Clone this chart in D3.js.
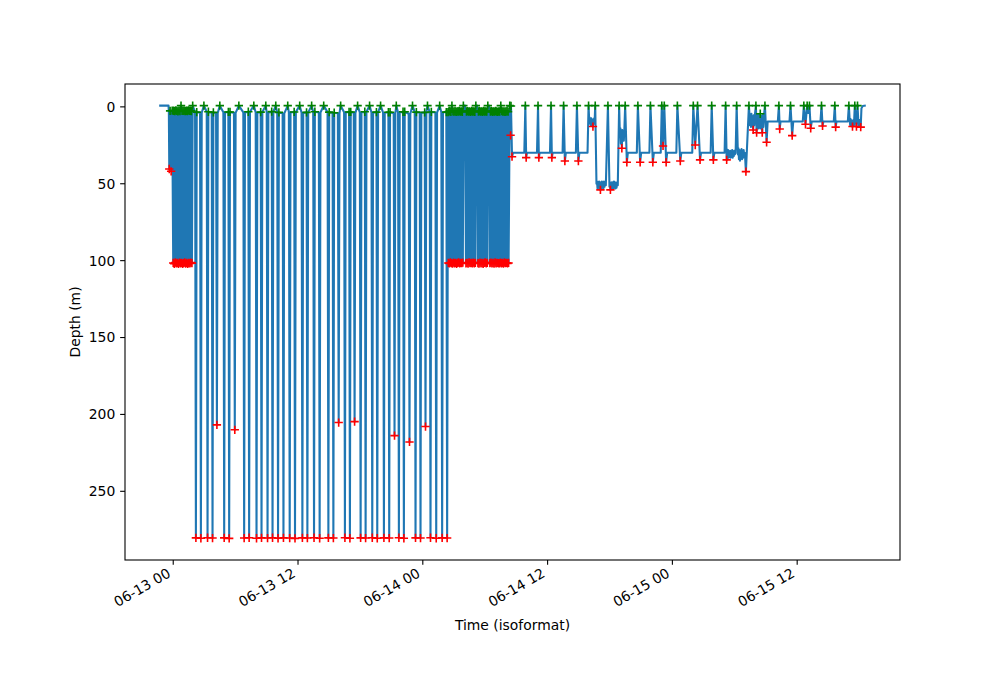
<!DOCTYPE html>
<html><head><meta charset="utf-8">
<script src="https://cdn.jsdelivr.net/npm/d3@7"></script>
<style>body{margin:0;background:#fff}svg{display:block}text{font-family:"DejaVu Sans",sans-serif}</style>
</head><body>
<svg id="chart" width="1000" height="700"></svg>
<script>
// ---------------- DATA (hours after 06-13 00:00 UTC, depth in metres) ----------------
const startDay = Date.UTC(2023, 5, 13, 0, 0, 0);

// descent before the first dense bout
const leadPoints = [[-1.25,-0.8],[-0.45,-0.8],[-0.42,3.6],[-0.38,40.4],[-0.30,2.6],[-0.20,41.9],[-0.10,2.4]];

// first dense bout of ~100 m dives (alternating bottom / top)
const block1Points = [
[0.00,101.5],[0.05,2.5],[0.10,102.0],[0.15,2.8],[0.20,101.2],[0.25,2.3],[0.30,101.8],[0.35,2.6],
[0.40,101.5],[0.45,2.9],[0.50,102.1],[0.55,2.4],[0.60,101.3],[0.65,2.7],[0.70,101.7],[0.75,-0.8],
[0.80,101.4],[0.85,2.5],[0.90,102.0],[0.95,2.6],[1.00,101.6],[1.05,2.4],[1.10,101.2],[1.15,2.8],
[1.20,101.9],[1.25,2.5],[1.30,101.5],[1.35,2.7],[1.40,102.1],[1.45,2.3],[1.50,101.4],[1.55,2.6],
[1.60,101.8],[1.65,2.5],[1.70,101.3],[1.75,2.7],[1.80,101.6],[1.87,-0.8]];

// deep dives: time of bottom, max depth, surface depth around the dive
const deepDiveHours = [2.18,2.66,3.30,3.78,4.20,4.90,5.38,5.92,6.82,7.30,8.01,8.49,9.07,9.55,10.08,10.60,
  11.20,11.71,12.42,12.90,13.54,14.08,14.92,15.40,15.91,16.51,16.99,17.44,18.02,18.50,19.14,19.62,
  20.26,20.77,21.28,21.70,22.18,22.72,23.30,23.78,24.26,24.74,25.29,25.86,26.34];
const deepDiveDepths = [280.3,280.5,280.2,280.4,206.8,280.3,280.6,210.0,280.4,280.2,280.5,280.3,280.4,280.2,280.5,280.3,
  280.4,280.6,280.3,280.4,280.2,280.5,280.3,280.4,205.3,280.2,280.5,204.7,280.3,280.4,280.2,280.5,
  280.3,280.4,213.8,280.2,280.5,217.9,280.3,280.4,207.9,280.2,280.5,280.3,280.4];
const deepDiveSurface = [3.4,3.8,3.2,3.6,4.0,3.5,3.3,3.9,3.6,3.2,3.7,3.4,3.8,3.1,3.6,4.2,3.5,3.3,3.9,3.6,3.2,3.7,3.4,
  3.8,4.1,3.5,3.3,3.9,3.6,3.2,3.7,3.4,3.8,3.5,4.3,3.6,3.2,4.5,3.4,3.8,3.6,3.3,3.7,3.5,3.4];
const breathHours = [2.95,4.48,6.31,7.75,8.90,9.86,11.01,12.16,13.31,14.47,16.10,17.73,18.88,19.94,21.45,23.01,24.45,25.62];
const breathDepth = -0.8;
const diveHalfDuration = 0.08;

// second dense bout of ~100 m dives
const block2Points = [
[26.45,101.5],[26.50,3.0],[26.55,101.8],[26.60,2.7],[26.65,101.2],[26.70,3.2],[26.75,101.6],[26.80,-0.8],
[26.85,101.9],[26.90,2.9],[26.95,101.3],[27.00,3.1],[27.05,101.7],[27.10,2.8],[27.15,101.4],[27.20,3.3],
[27.25,102.0],[27.30,2.9],[27.35,101.5],[27.40,3.0],[27.45,101.2],[27.50,2.7],[27.55,101.8],[27.60,3.1],
[27.65,101.4],[27.70,2.9],[27.75,101.6],[27.80,3.2],[27.85,101.3],[27.90,-0.8],[28.05,-0.8],
[28.15,101.7],[28.20,3.0],[28.25,101.4],[28.30,2.8],[28.35,101.9],[28.40,3.1],[28.45,101.2],[28.50,2.9],
[28.55,101.6],[28.60,3.3],[28.65,101.5],[28.70,2.7],[28.75,101.8],[28.80,3.0],[28.85,101.3],[28.90,2.9],
[28.95,101.7],[29.00,3.2],[29.05,101.4],[29.10,-0.8],[29.22,-0.8],
[29.30,101.6],[29.35,3.0],[29.40,101.9],[29.45,2.8],[29.50,101.3],[29.55,3.1],[29.60,101.7],[29.65,2.9],
[29.70,101.4],[29.75,3.2],[29.80,102.0],[29.85,2.7],[29.90,101.5],[29.95,3.0],[30.00,101.2],[30.05,2.9],
[30.10,101.8],[30.15,3.1],[30.20,101.4],[30.25,-0.8],[30.37,-0.8],
[30.45,101.6],[30.50,3.0],[30.55,101.3],[30.60,2.8],[30.65,101.8],[30.70,3.2],[30.75,101.5],[30.80,2.9],
[30.85,101.9],[30.90,3.1],[30.95,101.2],[31.00,2.7],[31.05,101.7],[31.10,3.0],[31.15,101.4],[31.20,3.3],
[31.25,101.6],[31.30,2.9],[31.35,101.8],[31.40,3.0],[31.45,101.3],[31.50,-0.8],[31.55,101.7],[31.60,2.8],
[31.65,101.5],[31.70,3.1],[31.75,101.9],[31.80,2.9],[31.85,101.2],[31.90,3.2],[31.95,101.6],[32.00,3.0],
[32.05,101.4],[32.10,2.7],[32.15,101.8],[32.20,3.1],[32.25,101.5]];

// shallow resting phase (~30 m, ~50 m, then ~10 m) with surface excursions
const shallowPoints = [
[32.36,-0.8],[32.44,18.5],[32.48,-0.6],[32.58,32.4],[32.68,29.8],
[33.76,29.8],[33.86,-0.8],[33.94,33.0],[34.02,29.8],
[34.98,29.8],[35.08,-0.8],[35.16,33.0],[35.24,29.8],
[36.23,29.8],[36.33,-0.8],[36.41,33.0],[36.49,29.8],
[37.44,29.8],[37.54,-0.8],[37.66,35.2],[37.76,29.8],
[38.72,29.8],[38.82,-0.8],[38.96,35.2],[39.06,29.8],
[39.84,29.8],[39.94,-0.8],
[40.00,9],[40.04,7],[40.08,11],[40.12,8],[40.16,12],[40.20,7.5],[40.24,11.5],[40.28,8],[40.32,12],[40.36,12.8],
[40.40,8],[40.44,11],[40.48,7.5],[40.52,10],
[40.58,-0.8],
[40.70,50],[40.75,48.5],[40.80,53],[40.85,49],[40.90,52.5],[40.95,48.5],[41.00,53],[41.04,49],[41.08,54],[41.12,49],
[41.17,53],[41.22,48.5],[41.27,52.5],[41.32,49],[41.37,53],[41.42,48.5],[41.47,52],[41.52,49],[41.60,51],
[41.80,-0.8],
[41.95,52],[42.00,49],[42.04,54],[42.08,49.5],[42.13,53],[42.18,49],[42.23,53.5],[42.28,49],[42.33,53],[42.38,48.5],
[42.43,52.5],[42.48,49],[42.53,53],[42.58,49.5],[42.63,52.5],[42.68,49],[42.75,51],
[42.88,-0.8],
[42.95,18],[43.00,14],[43.05,24],[43.10,16],[43.14,26.9],[43.18,15],[43.23,22],[43.28,16],[43.33,22],[43.38,15],
[43.46,-0.8],[43.62,36.0],[43.72,29.8],
[44.58,29.8],[44.68,-0.8],[44.90,36.0],[45.00,29.8],
[45.79,29.8],[45.89,-0.8],[46.12,36.0],[46.22,29.8],
[46.88,29.8],[46.98,-0.8],[47.10,25.4],[47.22,-0.8],[47.40,36.0],[47.50,29.8],
[48.38,29.8],[48.48,-0.8],[48.76,35.2],[48.86,29.8],
[49.91,29.8],[50.01,-0.8],[50.20,24.8],[50.42,-0.8],[50.66,34.5],[50.76,29.8],
[51.68,29.8],[51.78,-0.8],[51.94,34.5],[52.04,29.8],
[53.02,29.8],[53.12,-0.8],[53.22,34.5],[53.30,30],[53.35,28],[53.40,33],[53.45,29],[53.50,32],[53.55,28.5],
[53.60,33],[53.65,29],[53.70,32.5],[53.75,28],[53.80,33],[53.85,29],[53.90,32],[53.95,28.5],[54.00,31],[54.08,30],
[54.18,-0.8],
[54.30,31],[54.35,27],[54.40,34],[54.45,28],[54.50,35],[54.55,28.5],[54.60,33],[54.65,27.5],[54.70,34],[54.75,29],
[54.80,33],[54.85,28],[54.90,31],[54.97,30],[55.07,42.1],
[55.36,-0.8],
[55.42,6],[55.46,12],[55.50,5],[55.55,13],[55.60,4.5],[55.65,12.5],[55.70,6],[55.77,15.0],[55.82,5.5],[55.87,12],[55.92,6],
[56.03,-0.8],[56.10,16.8],[56.15,6],[56.20,13],[56.25,5],[56.30,14],[56.35,5.5],[56.40,13],[56.45,4.5],[56.50,14],
[56.55,6],[56.64,16.8],[56.70,5],[56.75,13],[56.80,6],
[56.90,-0.8],[57.06,23.0],[57.16,9.5],
[58.14,9.5],[58.24,-0.8],[58.32,14.4],[58.40,9.5],
[59.26,9.5],[59.36,-0.8],[59.52,18.7],[59.62,9.5],
[60.54,9.5],[60.64,-0.8],[60.80,11.3],[60.96,-0.8],[61.08,4],[61.18,-0.8],[61.30,13.9],[61.40,9.5],
[62.24,9.5],[62.34,-0.8],[62.44,12.4],[62.52,9.5],
[63.52,9.5],[63.62,-0.8],[63.70,13.2],[63.78,9.5],
[64.87,9.5],[64.97,-0.8],
[65.05,9],[65.10,12],[65.15,8],[65.20,12.5],[65.25,9],[65.32,12.8],[65.40,8.5],[65.46,12],
[65.54,-0.8],[65.62,8],[65.70,12.8],[65.80,-0.8],[65.88,9],[65.94,12.5],[66.00,8.5],[66.05,12],[66.11,13.2],
[66.18,1],[66.30,-0.6],[66.50,-0.8]];

const yTickValues = [0, 50, 100, 150, 200, 250];
const xLabel = "Time (isoformat)";
const yLabel = "Depth (m)";
const minProminence = 10;

// ---------------- BUILD SERIES ----------------
const deepPoints = [];
deepDiveHours.forEach((h, i) => {
  deepPoints.push([h - diveHalfDuration, deepDiveSurface[i]]);
  deepPoints.push([h, deepDiveDepths[i]]);
  deepPoints.push([h + diveHalfDuration, deepDiveSurface[i]]);
});
breathHours.forEach(h => deepPoints.push([h, breathDepth]));
deepPoints.sort((a, b) => a[0] - b[0]);

const pts = [...leadPoints, ...block1Points, ...deepPoints, ...block2Points, ...shallowPoints];
const toDate = h => new Date(startDay + h * 3600e3);

// dive extrema with prominence (like scipy find_peaks)
function findExtrema(vals, sign, minProm) {
  const v = vals.map(d => sign * d), n = v.length, out = [];
  let i = 1;
  while (i < n - 1) {
    if (v[i] > v[i - 1]) {
      let j = i;
      while (j < n - 1 && v[j + 1] === v[i]) j++;
      if (j < n - 1 && v[j + 1] < v[i]) {
        let lmin = v[i], k = i - 1;
        while (k >= 0 && v[k] <= v[i]) { lmin = Math.min(lmin, v[k]); k--; }
        let rmin = v[i]; k = j + 1;
        while (k < n && v[k] <= v[i]) { rmin = Math.min(rmin, v[k]); k++; }
        if (v[i] - Math.max(lmin, rmin) >= minProm) out.push(Math.floor((i + j) / 2));
      }
      i = j + 1;
    } else i++;
  }
  return out;
}
const depthVals = pts.map(d => d[1]);
const maxima = findExtrema(depthVals, 1, minProminence).map(i => pts[i]);
const minima = findExtrema(depthVals, -1, minProminence).map(i => pts[i]);

// ---------------- SCALES ----------------
const L = 125, R = 900, T = 84, B = 560;
const [h0, h1] = d3.extent(pts, d => d[0]);
const hPad = (h1 - h0) * 0.05;
const x = d3.scaleUtc().domain([toDate(h0 - hPad), toDate(h1 + hPad)]).range([L, R]);
const [d0, d1] = d3.extent(pts, d => d[1]);
const dPad = (d1 - d0) * 0.05;
const y = d3.scaleLinear().domain([d0 - dPad, d1 + dPad]).range([T, B]);

const svg = d3.select("#chart");
svg.append("rect").attr("width", 1000).attr("height", 700).attr("fill", "#fff");

// ---------------- LINE ----------------
const line = d3.line().x(d => x(toDate(d[0]))).y(d => y(d[1]));
svg.append("path").datum(pts).attr("d", line)
  .attr("fill", "none").attr("stroke", "#1f77b4").attr("stroke-width", 2.08)
  .attr("stroke-linejoin", "round").attr("stroke-linecap", "square");

// ---------------- MARKERS ----------------
const plus = "M-4.17,0H4.17M0,-4.17V4.17";
function drawMarks(data, color) {
  svg.append("g").selectAll("path").data(data).join("path")
    .attr("d", plus)
    .attr("transform", d => `translate(${x(toDate(d[0]))},${y(d[1])})`)
    .attr("fill", "none").attr("stroke", color).attr("stroke-width", 1.6);
}
drawMarks(maxima, "#ff0000");
drawMarks(minima, "#008000");

// ---------------- AXES ----------------
svg.append("rect").attr("x", L).attr("y", T).attr("width", R - L).attr("height", B - T)
  .attr("fill", "none").attr("stroke", "#000").attr("stroke-width", 1.1);

const fmt = d3.utcFormat("%m-%d %H");
const xTicks = x.ticks(d3.utcHour.every(12));
const gx = svg.append("g");
xTicks.forEach(t => {
  const px = x(t);
  gx.append("line").attr("x1", px).attr("x2", px).attr("y1", B).attr("y2", B + 4.86)
    .attr("stroke", "#000").attr("stroke-width", 1.1);
  gx.append("text").attr("text-anchor", "end").attr("font-size", 13.9).attr("fill", "#000")
    .attr("transform", `translate(${px - 1.6},${B + 16}) rotate(-30)`)
    .text(fmt(t));
});
const gy = svg.append("g");
yTickValues.forEach(v => {
  const py = y(v);
  gy.append("line").attr("x1", L - 4.86).attr("x2", L).attr("y1", py).attr("y2", py)
    .attr("stroke", "#000").attr("stroke-width", 1.1);
  gy.append("text").attr("x", L - 9.7).attr("y", py).attr("dy", "0.35em")
    .attr("text-anchor", "end").attr("font-size", 13.9).attr("fill", "#000").text(v);
});
svg.append("text").attr("x", (L + R) / 2).attr("y", 630).attr("text-anchor", "middle")
  .attr("font-size", 13.9).text(xLabel);
svg.append("text").attr("transform", `translate(80,${(T + B) / 2}) rotate(-90)`)
  .attr("text-anchor", "middle").attr("font-size", 13.9).text(yLabel);
</script>
</body></html>
